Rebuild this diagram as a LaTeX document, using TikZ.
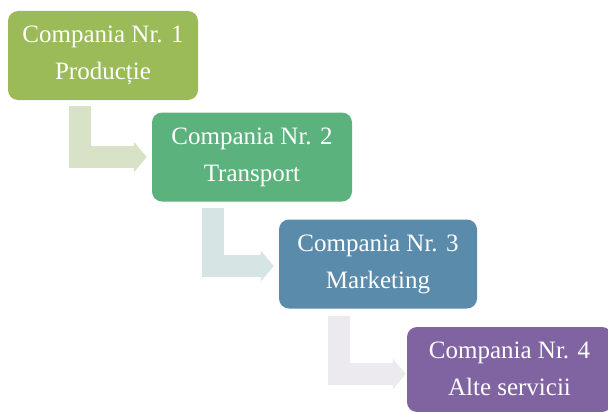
\documentclass[tikz,border=0pt]{standalone}
\usepackage{fontspec}
\setmainfont{Liberation Serif}
\usetikzlibrary{calc,arrows.meta}
\definecolor{prodgreen}{HTML}{9BBB59}
\definecolor{transgreen}{HTML}{5BB27D}
\definecolor{markblue}{HTML}{5B8BAB}
\definecolor{altpurple}{HTML}{8064A2}
\definecolor{prodlink}{HTML}{D8E2C6}
\definecolor{translink}{HTML}{D6E5E4}
\definecolor{marklink}{HTML}{ECE9EF}

\begin{document}
\begin{tikzpicture}[x=1pt,y=-1pt,
  company/.style={rounded corners=10pt, text=white, align=center,
    inner sep=0pt, minimum height=89pt, font=\fontsize{25}{37}\selectfont},
  link/.style={line width=22pt, line join=miter,
    -{Triangle[length=13pt,width=30pt]}}]
  \useasboundingbox (0,0) rectangle (608,412);
  \clip (0,0) rectangle (608,412);
  \node[company, fill=prodgreen, minimum width=190pt] (c1) at (103,55.5)
    {Compania Nr. 1\\Producție};
  \node[company, fill=transgreen, minimum width=200pt] (c2) at (252,157)
    {Compania Nr. 2\\Transport};
  \node[company, fill=markblue, minimum width=198pt] (c3) at (378,264)
    {Compania Nr. 3\\Marketing};
  \node[company, fill=altpurple, minimum width=205pt, minimum height=85pt] (c4) at (509.5,369.5)
    {\raisebox{5pt}{\begin{tabular}{@{}c@{}}Compania Nr. 4\\Alte servicii\end{tabular}}};
  \draw[link, prodlink] ($(c1.south)+(-23.5,6)$) |- ($(c2.west)+(-5,0)$);
  \draw[link, translink] ($(c2.south)+(-39.5,6)$) |- ($(c3.west)+(-5,2)$);
  \draw[link, marklink] ($(c3.south)+(-39,7)$) |- ($(c4.west)+(-1,4.5)$);
\end{tikzpicture}
\end{document}
